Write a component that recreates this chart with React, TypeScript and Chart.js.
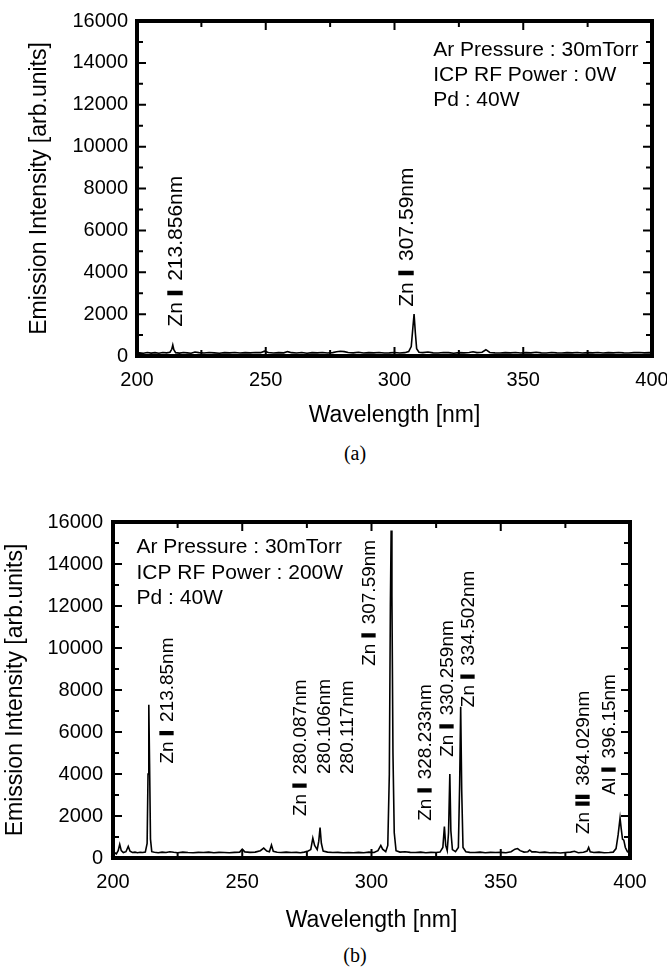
import React, { useEffect, useRef } from "react";
import { Chart, registerables } from "chart.js";

Chart.register(...registerables);

const FONT = '"Liberation Sans", Arial, Helvetica, sans-serif';

// ---- axes ----
const X_MIN = 200;
const X_MAX = 400;
const X_STEP = 50;
const Y_MIN = 0;
const Y_MAX = 16000;
const Y_STEP = 2000;
const X_TITLE = "Wavelength [nm]";
const Y_TITLE = "Emission Intensity [arb.units]";

// ---- spectrum (a): ICP RF 0W ----
const wavelengthA = [
  200, 201, 202.5, 204, 205.5, 207, 208.5, 210, 211.5, 212.8, 213.5, 213.9, 214.3, 215, 216.5, 218, 219.5, 221,
  222.5, 224, 226, 228, 230, 232, 234, 236, 238, 240, 242, 244, 246, 248, 249.5, 251, 253, 255, 257, 258.5, 260,
  262, 264, 266, 268, 270, 272, 274, 276, 277.5, 279, 280.5, 282, 284, 286, 288, 290, 292, 294, 296, 298, 300,
  302, 304, 305.5, 306.5, 307.1, 307.6, 308.1, 308.6, 309.5, 311, 313, 315, 317, 319, 321, 323, 325, 327, 329,
  330.5, 332, 334, 335.5, 337, 339, 341, 343, 345, 347, 349, 351, 353, 355, 357, 359, 361, 363, 365, 367, 369,
  371, 373, 375, 377, 379, 381, 383, 385, 387, 389, 391, 393, 395, 397, 399, 400,
];
const intensityA = [
  120, 150, 130, 170, 140, 160, 130, 170, 150, 180, 320, 520, 300, 160, 140, 170, 150, 130,
  190, 160, 140, 170, 150, 130, 160, 150, 170, 140, 160, 150, 170, 160, 230, 170, 140, 160, 150, 210, 160,
  140, 170, 130, 160, 150, 170, 140, 160, 200, 230, 210, 170, 150, 180, 140, 160, 150, 170, 140, 150, 170,
  140, 160, 210, 450, 1300, 2000, 1100, 350, 180, 160, 190, 150, 140, 170, 160, 130, 160, 150, 170,
  200, 160, 180, 300, 170, 150, 140, 160, 150, 170, 140, 160, 150, 180, 150, 140, 170, 150, 140, 160, 150,
  170, 140, 160, 150, 170, 140, 160, 150, 170, 150, 140, 160, 170, 150, 160, 150,
];

// ---- spectrum (b): ICP RF 200W ----
const wavelengthB = [
  197.8, 198.6, 199.3, 200, 200.6, 201.3, 202, 202.6, 203.2, 204, 205, 205.9, 206.6, 207.5, 208.5, 209.5, 210.5,
  211.5, 212.5, 213.2, 213.55, 213.85, 214.15, 214.5, 215, 216, 217.5, 219, 220.5, 222, 223.5, 225, 227, 229,
  231, 233, 235, 237, 239, 241, 243, 245, 247, 249, 250, 251, 253, 255, 257, 258.3, 259.5, 260.5, 261.3, 262,
  263.5, 265, 267, 269, 271, 272.5, 274, 275.5, 276.5, 277.3, 278, 279, 279.6, 280.1, 280.6, 281.3, 283, 285,
  287, 289, 291, 293, 295, 297, 299, 301, 302.5, 303.6, 304.3, 305.5, 306.3, 306.9, 307.3, 307.6, 307.9, 308.3,
  308.8, 309.5, 311, 313, 315, 317, 319, 321, 323, 325, 326.5, 327.6, 328.2, 328.7, 329.3, 329.8, 330.3, 330.7,
  331.3, 332.5, 333.6, 334.1, 334.5, 334.9, 335.4, 336.5, 338, 340, 342, 344, 346, 348, 350, 352, 354, 355.5,
  356.5, 357.5, 359, 360.5, 361.2, 362, 363.5, 365, 367, 369, 371, 373, 375, 377, 378.5, 380, 382, 383.4, 384,
  384.6, 386, 388, 390, 392, 393.5, 394.6, 395.4, 396.15, 396.6, 397.1, 397.6, 398.2, 399, 399.6, 400,
];
const intensityB = [
  80, 300, 120, 60, 250, 200, 350, 650, 350, 260, 300, 550, 320, 260, 280, 250, 270,
  260, 280, 700, 4000, 7300, 4500, 900, 300, 270, 250, 280, 260, 300, 270, 250, 280, 260,
  250, 270, 260, 280, 250, 270, 260, 250, 270, 280, 420, 290, 270, 280, 350, 470, 330, 300, 620, 320,
  270, 260, 280, 260, 270, 250, 280, 330, 400, 950, 600, 400, 800, 1450, 700, 330, 280, 260,
  270, 250, 260, 250, 270, 250, 280, 260, 350, 600, 420, 300, 600, 4000, 12000, 15600, 12500, 5000,
  1200, 350, 280, 300, 270, 260, 280, 250, 270, 260, 280, 500, 1500, 600, 350, 1200, 4000, 1300,
  400, 300, 500, 3500, 7200, 3200, 500, 300, 270, 260, 280, 250, 270, 260, 270, 250, 300, 420,
  450, 350, 280, 300, 380, 290, 300, 260, 280, 250, 260, 240, 260, 280, 320, 250, 270, 330, 500,
  300, 260, 280, 250, 260, 280, 450, 1100, 1900, 1400, 900, 850, 500, 300, 260, 250,
];

// ---- condition text ----
const infoA = ["Ar Pressure : 30mTorr", "ICP RF Power : 0W", "Pd : 40W"];
const infoB = ["Ar Pressure : 30mTorr", "ICP RF Power : 200W", "Pd : 40W"];

// ---- peak labels: element, ionisation stage, wavelength ----
const peakElemA = ["Zn", "Zn"];
const peakIonA = ["I", "I"];
const peakWlA = ["213.856nm", "307.59nm"];

const peakElemB = ["Zn", "Zn", "", "", "Zn", "Zn", "Zn", "Zn", "Zn", "Al"];
const peakIonB = ["I", "I", "", "", "I", "I", "I", "I", "II", "I"];
const peakWlB = [
  "213.85nm", "280.087nm", "280.106nm", "280.117nm", "307.59nm",
  "328.233nm", "330.259nm", "334.502nm", "384.029nm", "396.15nm",
];

// annotation anchors (data coordinates of the start of each vertical label)
const peakAnchorA = [
  [215.1, 1400],
  [304.9, 2350],
];
const peakAnchorB = [
  [221.3, 4500],
  [272.7, 2000],
  [282.0, 4000],
  [290.9, 4000],
  [299.4, 9150],
  [321.1, 1770],
  [329.6, 4820],
  [337.7, 7180],
  [382.2, 1140],
  [392.3, 3010],
];
const infoAnchorA = { x: 315, y: [14615, 13430, 12240] };
const infoAnchorB = { x: 209.1, y: [14800, 13560, 12360] };

type PanelCfg = {
  wl: number[];
  val: number[];
  info: string[];
  infoAnchor: { x: number; y: number[] };
  labels: { el: string; ion: string; wl: string }[];
  anchors: number[][];
  canvasTop: number;
  canvasH: number;
  plotLeft: number;
  plotRight: number;
  plotTop: number;
  plotBottom: number;
  yTitlePad: number;
  yTickPad: number;
  xTitlePadBottom: number;
  labelSize: number;
  clip: boolean;
};

const CANVAS_W = 690;

function buildLabels(el: string[], ion: string[], wl: string[]) {
  return wl.map((w, i) => ({ el: el[i] ?? "", ion: ion[i] ?? "", wl: w }));
}

const labelsA = buildLabels(peakElemA, peakIonA, peakWlA);
const labelsB = buildLabels(peakElemB, peakIonB, peakWlB);

function Panel({ cfg }: { cfg: PanelCfg }) {
  const ref = useRef<HTMLCanvasElement | null>(null);

  useEffect(() => {
    const canvas = ref.current;
    if (!canvas) return;

    const framePlugin = {
      id: "frameAndNotes",
      afterDatasetsDraw(chart: any) {
        const ctx = chart.ctx as CanvasRenderingContext2D;
        const { left, right, top, bottom } = chart.chartArea;
        const xs = chart.scales.x;
        const ys = chart.scales.y;
        ctx.save();
        ctx.strokeStyle = "#000";
        ctx.fillStyle = "#000";

        // inward tick marks (major + minor midpoints) on all four sides
        ctx.lineWidth = 2;
        const yv = ys.ticks.map((t: any) => t.value);
        const xv = xs.ticks.map((t: any) => t.value);
        const drawY = (v: number, len: number) => {
          const p = ys.getPixelForValue(v);
          ctx.beginPath();
          ctx.moveTo(left, p);
          ctx.lineTo(left + len, p);
          ctx.moveTo(right, p);
          ctx.lineTo(right - len, p);
          ctx.stroke();
        };
        const drawX = (v: number, len: number) => {
          const p = xs.getPixelForValue(v);
          ctx.beginPath();
          ctx.moveTo(p, bottom);
          ctx.lineTo(p, bottom - len);
          ctx.moveTo(p, top);
          ctx.lineTo(p, top + len);
          ctx.stroke();
        };
        yv.forEach((v: number, i: number) => {
          drawY(v, 9);
          if (i < yv.length - 1) drawY((v + yv[i + 1]) / 2, 6);
        });
        xv.forEach((v: number, i: number) => {
          drawX(v, 9);
          if (i < xv.length - 1) drawX((v + xv[i + 1]) / 2, 6);
        });

        // thick frame
        ctx.lineWidth = 4;
        ctx.strokeRect(left, top, right - left, bottom - top);

        // condition text
        ctx.font = `21px ${FONT}`;
        ctx.textAlign = "left";
        ctx.textBaseline = "middle";
        const ix = xs.getPixelForValue(cfg.infoAnchor.x);
        cfg.info.forEach((t, i) => {
          ctx.fillText(t, ix, ys.getPixelForValue(cfg.infoAnchor.y[i]));
        });

        // vertical peak labels
        const size = cfg.labelSize;
        cfg.labels.forEach((lb, i) => {
          const [ax, ay] = cfg.anchors[i];
          const px = xs.getPixelForValue(ax);
          const py = ys.getPixelForValue(ay);
          ctx.save();
          ctx.translate(px, py);
          ctx.rotate(-Math.PI / 2);
          ctx.textAlign = "left";
          ctx.textBaseline = "middle";
          let x = 0;
          if (lb.el) {
            ctx.font = `${size}px ${FONT}`;
            ctx.fillText(lb.el, x, 0);
            x += ctx.measureText(lb.el).width + size * 0.3;
          }
          if (lb.ion) {
            ctx.font = `bold ${size}px ${FONT}`;
            ctx.lineWidth = size * 0.07;
            for (const ch of lb.ion) {
              ctx.fillText(ch, x, 0);
              ctx.strokeText(ch, x, 0);
              x += ctx.measureText(ch).width + size * 0.08;
            }
            x += size * 0.36;
          }
          ctx.font = `${size}px ${FONT}`;
          ctx.fillText(lb.wl, x, 0);
          ctx.restore();
        });

        ctx.restore();
      },
    };

    const points = cfg.wl.map((w, i) => ({ x: w, y: cfg.val[i] }));

    const chart = new Chart(canvas, {
      type: "line",
      data: {
        datasets: [
          {
            data: points,
            borderColor: "#000",
            borderWidth: 1.6,
            pointRadius: 0,
            tension: 0,
            fill: false,
            clip: cfg.clip ? 4 : false,
          } as any,
        ],
      },
      options: {
        responsive: false,
        maintainAspectRatio: false,
        animation: false,
        devicePixelRatio: 1,
        layout: {
          padding: {
            top: cfg.plotTop,
            right: CANVAS_W - cfg.plotRight,
            bottom: 0,
            left: 0,
          },
        },
        plugins: {
          legend: { display: false },
          tooltip: { enabled: false },
        },
        scales: {
          x: {
            type: "linear",
            min: X_MIN,
            max: X_MAX,
            grid: { display: false, drawTicks: false },
            border: { display: false },
            ticks: {
              stepSize: X_STEP,
              color: "#000",
              font: { family: FONT, size: 20 },
              padding: 12,
              maxRotation: 0,
              autoSkip: false,
              callback: (v: any) => String(v),
            },
            title: {
              display: true,
              text: X_TITLE,
              color: "#000",
              font: { family: FONT, size: 23 },
              padding: { top: 0, bottom: cfg.xTitlePadBottom },
            },
            afterFit(scale: any) {
              scale.height = cfg.canvasH - cfg.plotBottom;
            },
          },
          y: {
            min: Y_MIN,
            max: Y_MAX,
            grid: { display: false, drawTicks: false },
            border: { display: false },
            ticks: {
              stepSize: Y_STEP,
              color: "#000",
              font: { family: FONT, size: 20 },
              padding: cfg.yTickPad,
              callback: (v: any) => String(v),
            },
            title: {
              display: true,
              text: Y_TITLE,
              color: "#000",
              font: { family: FONT, size: 23 },
              padding: { top: cfg.yTitlePad, bottom: 0 },
            },
            afterFit(scale: any) {
              scale.width = cfg.plotLeft;
            },
          },
        },
      } as any,
      plugins: [framePlugin],
    });

    return () => chart.destroy();
  }, [cfg]);

  return (
    <canvas
      ref={ref}
      width={CANVAS_W}
      height={cfg.canvasH}
      style={{
        position: "absolute",
        left: 0,
        top: cfg.canvasTop,
        width: CANVAS_W,
        height: cfg.canvasH,
      }}
    />
  );
}

const cfgA: PanelCfg = {
  wl: wavelengthA,
  val: intensityA,
  info: infoA,
  infoAnchor: infoAnchorA,
  labels: labelsA,
  anchors: peakAnchorA,
  canvasTop: 0,
  canvasH: 440,
  plotLeft: 137,
  plotRight: 652,
  plotTop: 15,
  plotBottom: 356,
  yTitlePad: 26,
  yTickPad: 9,
  xTitlePadBottom: 11,
  labelSize: 21,
  clip: true,
};

const cfgB: PanelCfg = {
  wl: wavelengthB,
  val: intensityB,
  info: infoB,
  infoAnchor: infoAnchorB,
  labels: labelsB,
  anchors: peakAnchorB,
  canvasTop: 500,
  canvasH: 440,
  plotLeft: 113,
  plotRight: 630,
  plotTop: 18,
  plotBottom: 358,
  yTitlePad: 2,
  yTickPad: 10,
  xTitlePadBottom: 6,
  labelSize: 19,
  clip: false,
};

const capStyle: React.CSSProperties = {
  position: "absolute",
  left: 305,
  width: 100,
  textAlign: "center",
  fontFamily: '"Liberation Serif", "DejaVu Serif", serif',
  fontSize: 20,
  lineHeight: "24px",
  color: "#000",
};

export default function App() {
  return (
    <div
      style={{
        position: "absolute",
        left: 0,
        top: 0,
        width: 667,
        height: 968,
        overflow: "hidden",
        background: "#fff",
      }}
    >
      <Panel cfg={cfgA} />
      <div style={{ ...capStyle, top: 441 }}>(a)</div>
      <Panel cfg={cfgB} />
      <div style={{ ...capStyle, top: 943 }}>(b)</div>
    </div>
  );
}
